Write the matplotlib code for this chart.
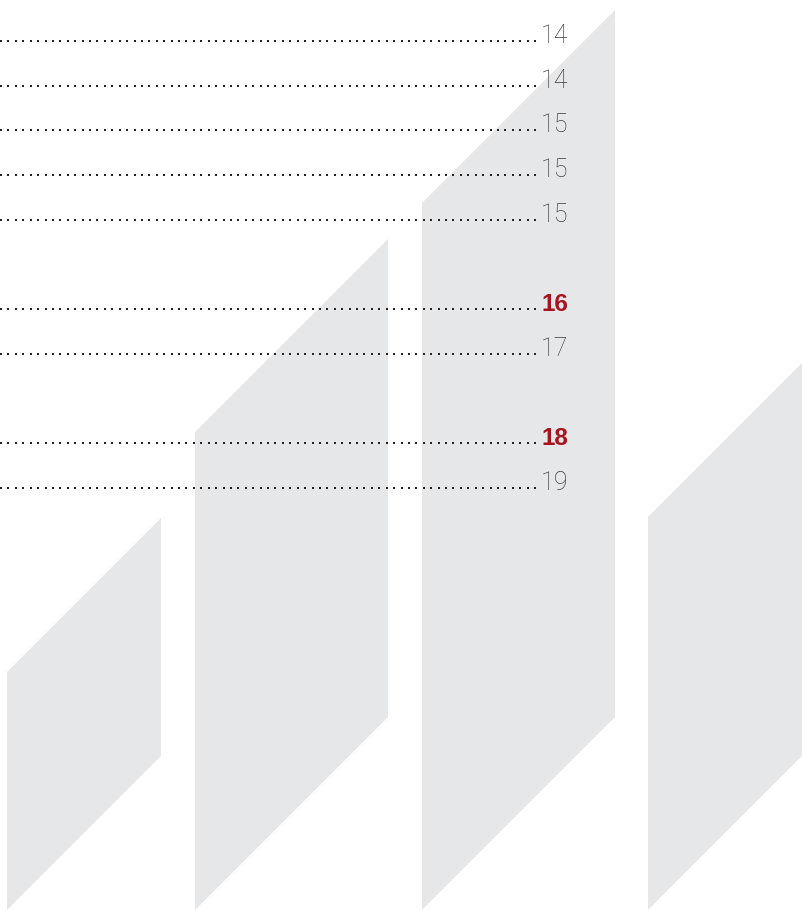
import numpy as np
import matplotlib
matplotlib.use("Agg")
import matplotlib.pyplot as plt
from matplotlib.patches import Polygon

# ---- data ----
page_numbers = ["14", "14", "15", "15", "15", "16", "17", "18", "19"]
row_index = [0, 1, 2, 3, 4, 6, 7, 9, 10]
highlight = [False, False, False, False, False, True, False, True, False]

# decorative parallelograms: left x, width, top-left y (pixel space)
shape_left = [7, 195, 422, 648]
shape_width = [154, 193, 193, 193]
shape_top_left = [672, 432, 203, 517]
shape_bottom = 910

# ---- figure ----
W, H = 802, 910
fig = plt.figure(figsize=(W / 100, H / 100), dpi=100)
ax = fig.add_axes([0, 0, 1, 1])
ax.set_xlim(0, W)
ax.set_ylim(H, 0)
ax.axis("off")

grey = "#E6E7E9"
for x0, w, ytl in zip(shape_left, shape_width, shape_top_left):
    verts = [(x0, ytl), (x0 + w, ytl - w), (x0 + w, shape_bottom - w), (x0, shape_bottom)]
    ax.add_patch(Polygon(verts, closed=True, facecolor=grey, edgecolor="none", zorder=1))

row0_y = 42.0
row_step = 44.7
dot_x = np.arange(1.0, 537.0, 7.417)
num_right = 568

for idx, page, hl in zip(row_index, page_numbers, highlight):
    y = row0_y + idx * row_step
    ax.plot(dot_x, np.full_like(dot_x, y - 1), linestyle="none", marker="s",
            markersize=1.5, markeredgewidth=0, color="#222222", zorder=3)
    if hl:
        ax.text(num_right, y + 1, page, ha="right", va="baseline", fontsize=17.5,
                fontweight="bold", color="#A8141D", family=["Liberation Sans", "DejaVu Sans"], zorder=4)
    else:
        ax.text(num_right, y + 1, page, ha="right", va="baseline", fontsize=18,
                fontweight="light", color="#3c3c3c", family=["Roboto", "DejaVu Sans"], zorder=4)

fig.savefig("out.png", dpi=100)
